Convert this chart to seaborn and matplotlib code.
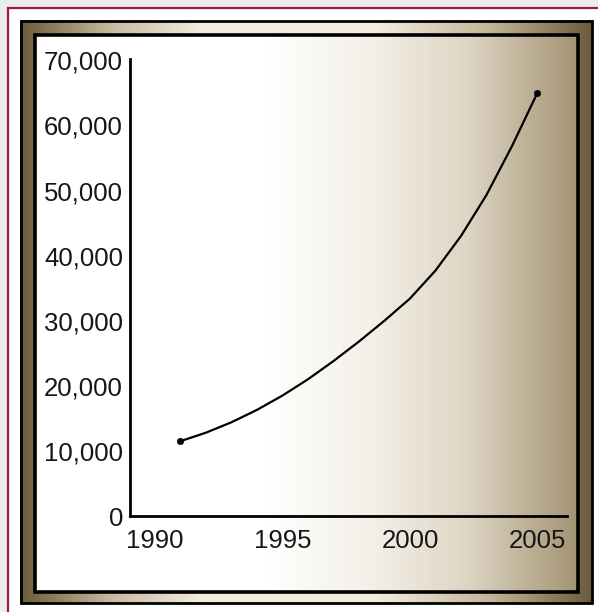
import matplotlib.pyplot as plt
import numpy as np
import pandas as pd
import seaborn as sns
from matplotlib.colors import LinearSegmentedColormap
from matplotlib.patches import Rectangle
from matplotlib.ticker import FuncFormatter

# ── Data ──────────────────────────────────────────────────────────────────────
years = [1991, 1992, 1993, 1994, 1995, 1996, 1997, 1998,
         1999, 2000, 2001, 2002, 2003, 2004, 2005]
values = [11500, 12800, 14400, 16300, 18500, 21000, 23800, 26800,
          30000, 33400, 37700, 43000, 49300, 56800, 65000]
x_ticks = [1990, 1995, 2000, 2005]
y_ticks = [0, 10000, 20000, 30000, 40000, 50000, 60000, 70000]

df = pd.DataFrame({"year": years, "value": values})
ends = df.iloc[[0, -1]]

# ── Style ─────────────────────────────────────────────────────────────────────
sns.set_style("white")
plt.rcParams["font.family"] = ["Liberation Sans", "DejaVu Sans"]
W, H = 598, 612
PAGE_GRAY = "#e9eded"
CRIMSON = "#9a1a48"
FRAME_DARK = "#6b5b3b"

fig = plt.figure(figsize=(W / 100, H / 100), dpi=100, facecolor=PAGE_GRAY)

# ── Decorative frame (pixel coordinates) ──────────────────────────────────────
bg = fig.add_axes([0, 0, 1, 1])
bg.set_xlim(0, W)
bg.set_ylim(H, 0)
bg.axis("off")

bg.add_patch(Rectangle((8, 8), W, H, facecolor="white", edgecolor=CRIMSON, lw=1.6))

band_cmap = LinearSegmentedColormap.from_list(
    "band",
    [(0.0, FRAME_DARK), (0.16, "#c9bb9f"), (0.32, "#f3ecdf"),
     (0.62, "#f3ecdf"), (0.82, "#c4b698"), (1.0, FRAME_DARK)],
)
inner_cmap = LinearSegmentedColormap.from_list(
    "inner",
    [(0.0, "#ffffff"), (0.42, "#ffffff"), (0.62, "#f4f0e8"),
     (0.80, "#ddd4c3"), (0.93, "#b8aa8e"), (1.0, "#a39474")],
)
grad = np.linspace(0, 1, 512).reshape(1, -1)
bg.imshow(grad, cmap=band_cmap, extent=(20, 593, 604, 20), aspect="auto", zorder=1)
bg.imshow(grad, cmap=inner_cmap, extent=(35, 578, 592, 35), aspect="auto", zorder=2)
bg.add_patch(Rectangle((21, 21), 571, 582, fill=False, edgecolor="black", lw=2, zorder=3))
bg.add_patch(Rectangle((35, 35), 543, 557, fill=False, edgecolor="black", lw=2.6, zorder=3))

# ── Chart ─────────────────────────────────────────────────────────────────────
left, right, top, bottom = 130, 567, 59, 516
ax = fig.add_axes([left / W, 1 - bottom / H, (right - left) / W, (bottom - top) / H])
ax.patch.set_alpha(0)

sns.lineplot(data=df, x="year", y="value", color="black", lw=1.6, ax=ax,
             solid_joinstyle="round", solid_capstyle="round")
sns.scatterplot(data=ends, x="year", y="value", color="black", s=22,
                edgecolor="black", ax=ax, zorder=3)

ax.set_xlim(1989.02, 2006.16)
ax.set_ylim(0, 70200)
ax.set_xticks(x_ticks)
ax.set_yticks(y_ticks)
ax.yaxis.set_major_formatter(FuncFormatter(lambda v, _: f"{v:,.0f}"))
ax.tick_params(axis="both", length=0, labelsize=18.5, colors="#161616")
ax.tick_params(axis="y", pad=5)
ax.tick_params(axis="x", pad=9)
ax.set_xlabel("")
ax.set_ylabel("")
sns.despine(ax=ax)
for side in ("left", "bottom"):
    ax.spines[side].set_linewidth(2)
    ax.spines[side].set_color("black")

fig.savefig("out.png", dpi=100, facecolor=PAGE_GRAY)
